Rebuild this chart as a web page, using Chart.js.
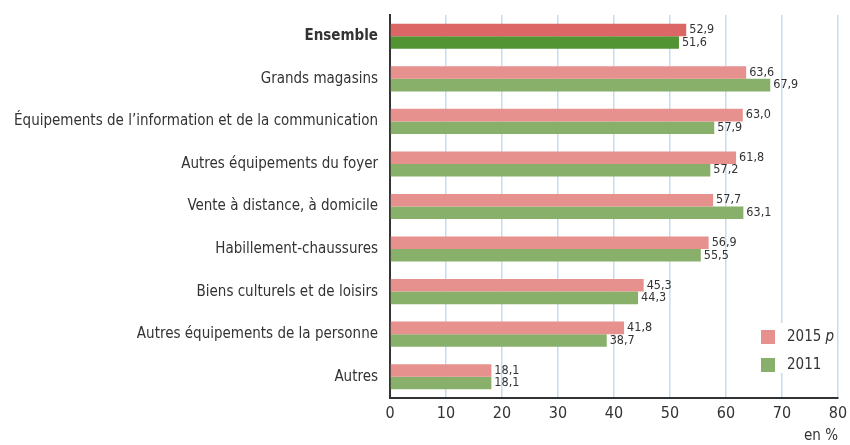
<!DOCTYPE html>
<html>
<head>
<meta charset="utf-8">
<title>Taux par forme de vente</title>
<script src="https://cdn.jsdelivr.net/npm/chart.js"></script>
<style>
  html, body { margin: 0; padding: 0; background: #fff; }
  #wrap { width: 850px; height: 445px; }
</style>
</head>
<body>
<div id="wrap"><canvas id="barChart" width="850" height="445"></canvas></div>
<script>
    var categories = [
        'Ensemble',
        'Grands magasins',
        'Équipements de l\u2019information et de la communication',
        'Autres équipements du foyer',
        'Vente à distance, à domicile',
        'Habillement-chaussures',
        'Biens culturels et de loisirs',
        'Autres équipements de la personne',
        'Autres'
    ];
    var values2015 = [52.9, 63.6, 63.0, 61.8, 57.7, 56.9, 45.3, 41.8, 18.1];
    var values2011 = [51.6, 67.9, 57.9, 57.2, 63.1, 55.5, 44.3, 38.7, 18.1];
    var seriesNames = ['2015', '2011'];
    var xTicks = [0, 10, 20, 30, 40, 50, 60, 70, 80];

    var FONT = '"DejaVu Sans Condensed", "Liberation Sans", sans-serif';
    var TEXT = '#333333';

    function colours(first, rest) {
        return categories.map(function (c, i) { return i === 0 ? first : rest; });
    }

    // value labels next to each bar
    var valueLabels = {
        id: 'valueLabels',
        afterDatasetsDraw: function (chart) {
            var ctx = chart.ctx;
            ctx.save();
            ctx.font = '12.5px ' + FONT;
            ctx.fillStyle = TEXT;
            ctx.textAlign = 'left';
            ctx.textBaseline = 'middle';
            chart.data.datasets.forEach(function (ds, di) {
                chart.getDatasetMeta(di).data.forEach(function (bar, i) {
                    var txt = ds.data[i].toFixed(1).replace('.', ',');
                    ctx.fillText(txt, bar.x + 3, bar.y);
                });
            });
            ctx.restore();
        }
    };

    // legend drawn inside the plot, bottom right
    var boxLegend = {
        id: 'boxLegend',
        afterDraw: function (chart) {
            var ctx = chart.ctx;
            ctx.save();
            ctx.fillStyle = '#ffffff';
            ctx.fillRect(752, 323, 82, 50);
            var cols = ['#e6918e', '#88b06a'];
            seriesNames.forEach(function (name, i) {
                var cy = 337 + i * 28;
                ctx.fillStyle = cols[i];
                ctx.fillRect(761, cy - 7, 14, 14);
                ctx.fillStyle = TEXT;
                ctx.textBaseline = 'middle';
                ctx.textAlign = 'left';
                ctx.font = '15px ' + FONT;
                ctx.fillText(name, 787, cy);
                if (i === 0) {
                    var w = ctx.measureText(name + ' ').width;
                    ctx.font = 'italic 15px ' + FONT;
                    ctx.fillText('p', 787 + w, cy);
                }
            });
            ctx.restore();
        }
    };

    var chart = new Chart(document.getElementById('barChart').getContext('2d'), {
        type: 'bar',
        data: {
            labels: categories,
            datasets: [{
                label: '2015 p',
                data: values2015,
                backgroundColor: colours('#dc6566', '#e6918e'),
                categoryPercentage: 0.59,
                barPercentage: 1
            }, {
                label: '2011',
                data: values2011,
                backgroundColor: colours('#529333', '#88b06a'),
                categoryPercentage: 0.59,
                barPercentage: 1
            }]
        },
        options: {
            indexAxis: 'y',
            responsive: false,
            animation: false,
            layout: { padding: { top: 15, right: 12, left: 0, bottom: 0 } },
            plugins: {
                legend: { display: false },
                tooltip: { enabled: false }
            },
            scales: {
                x: {
                    min: 0,
                    max: 80,
                    afterBuildTicks: function (s) {
                        s.ticks = xTicks.map(function (v) { return { value: v }; });
                    },
                    grid: {
                        color: function (c) { return c.tick && c.tick.value === 0 ? 'rgba(0,0,0,0)' : '#c3def0'; },
                        lineWidth: 1.5,
                        drawTicks: false
                    },
                    border: { display: true, color: '#333333', width: 2 },
                    ticks: {
                        color: TEXT,
                        padding: 6,
                        font: { family: FONT, size: 16 }
                    },
                    title: {
                        display: true,
                        text: 'en %',
                        align: 'end',
                        color: TEXT,
                        padding: { top: 0, bottom: 0 },
                        font: { family: FONT, size: 15 }
                    },
                    afterFit: function (s) {
                        s.height = 47;
                        s.paddingLeft = 0;
                        s.paddingRight = 0;
                    }
                },
                y: {
                    grid: { display: false, drawTicks: false },
                    border: { display: true, color: '#333333', width: 2 },
                    ticks: {
                        color: TEXT,
                        padding: 12,
                        font: function (c) {
                            return { family: FONT, size: 15, weight: c.index === 0 ? 'bold' : 'normal' };
                        }
                    },
                    afterFit: function (s) {
                        s.width = 390;
                        s.paddingTop = 0;
                        s.paddingBottom = 0;
                    }
                }
            }
        },
        plugins: [valueLabels, boxLegend]
    });
</script>
</body>
</html>
